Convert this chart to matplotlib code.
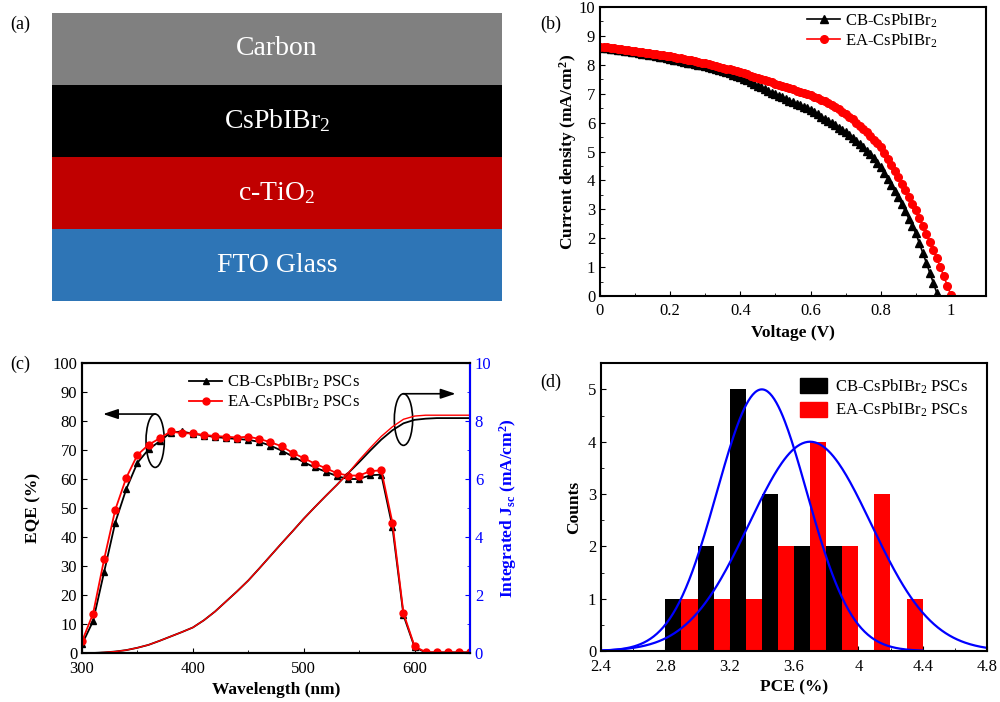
"""CsPbIBr2 solar cell figure: device stack, J-V, EQE and PCE histogram."""
import numpy as np
import matplotlib
matplotlib.use("Agg")
from matplotlib import pyplot as plt
from matplotlib.patches import Ellipse, Patch
from matplotlib.ticker import MultipleLocator

plt.rcParams['font.family'] = ['Liberation Serif', 'DejaVu Serif']
plt.rcParams['mathtext.fontset'] = 'custom'
plt.rcParams['mathtext.rm'] = 'Liberation Serif'
plt.rcParams['mathtext.it'] = 'Liberation Serif:italic'
plt.rcParams['mathtext.bf'] = 'Liberation Serif:bold'
plt.rcParams['xtick.direction'] = 'in'
plt.rcParams['ytick.direction'] = 'in'

# (a) device layers, bottom to top
layers = ['FTO Glass', 'c-TiO$_2$', 'CsPbIBr$_2$', 'Carbon']
layer_colors = ['#2E75B6', '#C00000', '#000000', '#808080']

# (b) J-V curves, 0.01 V steps
cb_jv = [8.60, 8.59, 8.58, 8.56, 8.55, 8.53, 8.51, 8.49, 8.47, 8.45,
         8.43, 8.41, 8.39, 8.37, 8.35, 8.33, 8.30, 8.28, 8.26, 8.23,
         8.21, 8.18, 8.16, 8.13, 8.11, 8.08, 8.06, 8.03, 8.00, 7.98,
         7.95, 7.92, 7.88, 7.85, 7.81, 7.78, 7.74, 7.70, 7.66, 7.62,
         7.58, 7.52, 7.46, 7.40, 7.34, 7.28, 7.22, 7.16, 7.10, 7.04,
         6.98, 6.93, 6.87, 6.82, 6.76, 6.71, 6.65, 6.60, 6.54, 6.49,
         6.43, 6.36, 6.29, 6.21, 6.14, 6.06, 5.98, 5.91, 5.83, 5.76,
         5.68, 5.58, 5.48, 5.38, 5.27, 5.16, 5.03, 4.90, 4.76, 4.62,
         4.47, 4.27, 4.06, 3.85, 3.64, 3.43, 3.18, 2.93, 2.68, 2.42,
         2.17, 1.83, 1.49, 1.15, 0.80, 0.45, 0.10]
ea_jv = [8.62, 8.61, 8.60, 8.59, 8.57, 8.55, 8.54, 8.52, 8.50, 8.49,
         8.47, 8.45, 8.44, 8.42, 8.40, 8.39, 8.37, 8.35, 8.33, 8.32,
         8.30, 8.28, 8.25, 8.23, 8.20, 8.18, 8.15, 8.13, 8.10, 8.08,
         8.05, 8.02, 7.99, 7.96, 7.93, 7.90, 7.87, 7.84, 7.81, 7.78,
         7.75, 7.71, 7.67, 7.63, 7.59, 7.55, 7.51, 7.47, 7.43, 7.39,
         7.35, 7.31, 7.27, 7.23, 7.19, 7.15, 7.11, 7.07, 7.03, 6.99,
         6.95, 6.90, 6.85, 6.79, 6.74, 6.68, 6.61, 6.53, 6.46, 6.38,
         6.31, 6.21, 6.11, 6.00, 5.90, 5.79, 5.66, 5.54, 5.41, 5.29,
         5.16, 4.95, 4.75, 4.54, 4.33, 4.12, 3.89, 3.66, 3.43, 3.20,
         2.97, 2.70, 2.42, 2.15, 1.87, 1.60, 1.30, 1.00, 0.68, 0.35,
         0.03]
cb_v = np.arange(len(cb_jv)) * 0.01
ea_v = np.arange(len(ea_jv)) * 0.01

# (c) EQE and integrated Jsc, 300-650 nm in 10 nm steps
wl = np.arange(300, 651, 10)
cb_eqe = [3.0, 11.0, 28.0, 45.0, 56.6, 65.6, 70.2, 73.0, 76.0, 76.4,
          75.6, 75.0, 74.5, 74.1, 73.8, 73.5, 72.8, 71.5, 69.8, 67.8,
          65.8, 64.0, 62.5, 61.0, 60.0, 60.0, 61.3, 61.5, 43.5, 13.0,
          2.0, 0.2, 0.2, 0.2, 0.2, 0.2]
ea_eqe = [4.0, 13.6, 32.4, 49.4, 60.5, 68.3, 71.8, 74.0, 76.4, 75.8,
          75.7, 75.2, 74.8, 74.6, 74.3, 74.6, 73.8, 72.7, 71.3, 69.0,
          67.2, 65.3, 63.7, 62.0, 61.2, 61.2, 62.7, 63.0, 45.0, 13.7,
          2.3, 0.3, 0.2, 0.2, 0.2, 0.2]
cb_jsc = [0.0, 0.0, 0.02, 0.05, 0.10, 0.18, 0.28, 0.42, 0.57, 0.72,
          0.88, 1.13, 1.43, 1.78, 2.13, 2.50, 2.92, 3.35, 3.78, 4.20,
          4.63, 5.03, 5.42, 5.80, 6.20, 6.58, 6.98, 7.36, 7.68, 7.92,
          8.04, 8.08, 8.10, 8.10, 8.10, 8.10]
ea_jsc = [0.0, 0.0, 0.02, 0.05, 0.10, 0.18, 0.28, 0.42, 0.57, 0.72,
          0.88, 1.13, 1.43, 1.78, 2.13, 2.50, 2.92, 3.35, 3.78, 4.20,
          4.63, 5.03, 5.42, 5.80, 6.20, 6.65, 7.07, 7.47, 7.80, 8.06,
          8.17, 8.20, 8.20, 8.20, 8.20, 8.20]

# (d) PCE histograms (bin left edges, width 0.1) and gaussian fits
cb_bins = [2.8, 3.0, 3.2, 3.4, 3.6, 3.8]
cb_counts = [1, 2, 5, 3, 2, 2]
ea_bins = [2.9, 3.1, 3.3, 3.5, 3.7, 3.9, 4.1, 4.3]
ea_counts = [1, 1, 1, 2, 4, 2, 3, 1]
fit_mean = [3.40, 3.70]
fit_sigma = [0.28, 0.38]
fit_amp = [5.0, 4.0]
fit_end = [4.4, 4.8]

fig = plt.figure(figsize=(10, 7.02), dpi=100)

# ---------------- (a)
ax1 = fig.add_axes([0.052, 0.5712, 0.45, 0.4103])
ax1.bar(np.zeros(4), np.ones(4), bottom=np.arange(4), width=1,
        color=layer_colors)
for i, name in enumerate(layers):
    ax1.text(0, i + 0.5, name, color='white', fontsize=20,
             ha='center', va='center')
ax1.set_xlim(-0.5, 0.5)
ax1.set_ylim(0, 4)
ax1.axis('off')
fig.text(0.010, 0.978, '(a)', fontsize=13, va='top')

# ---------------- (b)
ax2 = fig.add_axes([0.600, 0.5783, 0.386, 0.4117])
ax2.plot(cb_v, cb_jv, color='black', marker='^', ms=5.5, lw=1.2,
         label='CB-CsPbIBr$_2$')
ax2.plot(ea_v, ea_jv, color='red', marker='o', ms=5.5, lw=1.2,
         label='EA-CsPbIBr$_2$')
ax2.set_xlim(0, 1.1)
ax2.set_ylim(0, 10)
ax2.xaxis.set_major_locator(MultipleLocator(0.2))
ax2.xaxis.set_minor_locator(MultipleLocator(0.1))
ax2.yaxis.set_major_locator(MultipleLocator(1))
ax2.yaxis.set_minor_locator(MultipleLocator(0.5))
ax2.set_xticks([0, 0.2, 0.4, 0.6, 0.8, 1.0])
ax2.set_xticklabels(['0', '0.2', '0.4', '0.6', '0.8', '1'])
ax2.tick_params(labelsize=12)
ax2.tick_params(axis='x', pad=5)
ax2.set_xlabel('Voltage (V)', fontsize=12.5, fontweight='bold', labelpad=4)
ax2.set_ylabel(r'Current density (mA/cm$^\mathbf{2}$)', fontsize=12.5,
               fontweight='bold', labelpad=0)
ax2.legend(loc='upper left', bbox_to_anchor=(0.51, 1.02), frameon=False,
           fontsize=12, handlelength=2.0, handletextpad=0.3,
           labelspacing=0.1, borderaxespad=0.2)
fig.text(0.540, 0.978, '(b)', fontsize=13, va='top')

# ---------------- (c)
ax3 = fig.add_axes([0.082, 0.0698, 0.388, 0.4131])
ax3.plot(wl, cb_eqe, color='black', marker='^', ms=5, lw=1.3,
         label='CB-CsPbIBr$_2$ PSCs')
ax3.plot(wl, ea_eqe, color='red', marker='o', ms=5, lw=1.3,
         label='EA-CsPbIBr$_2$ PSCs')
ax3.set_xlim(300, 650)
ax3.set_ylim(0, 100)
ax3.xaxis.set_major_locator(MultipleLocator(100))
ax3.xaxis.set_minor_locator(MultipleLocator(50))
ax3.yaxis.set_major_locator(MultipleLocator(10))
ax3.tick_params(labelsize=12)
ax3.tick_params(axis='x', pad=6)
ax3.set_xlabel('Wavelength (nm)', fontsize=12.5, fontweight='bold',
               labelpad=3)
ax3.set_ylabel('EQE (%)', fontsize=12.5, fontweight='bold', labelpad=8)
ax3.legend(loc='upper left', bbox_to_anchor=(0.25, 1.0), frameon=False,
           fontsize=12, handlelength=2.0, handletextpad=0.3,
           labelspacing=0.1, borderaxespad=0.2)
ax3.add_patch(Ellipse((366, 73.2), 16.5, 18.4, fill=False, lw=1.2,
                      color='black'))
ax3.add_patch(Ellipse((590, 80.5), 16.5, 17.8, fill=False, lw=1.2,
                      color='black'))
arrow = dict(arrowstyle='-|>,head_length=0.9,head_width=0.3', color='black',
             lw=1.2, shrinkA=0, shrinkB=0)
ax3.annotate('', xy=(319, 82.4), xytext=(366, 82.4), arrowprops=arrow)
ax3.annotate('', xy=(637, 89.4), xytext=(590, 89.4), arrowprops=arrow)

ax3r = ax3.twinx()
ax3r.plot(wl, cb_jsc, color='black', lw=1.3)
ax3r.plot(wl, ea_jsc, color='red', lw=1.0)
ax3r.set_ylim(0, 10)
ax3r.yaxis.set_major_locator(MultipleLocator(2))
ax3r.yaxis.set_minor_locator(MultipleLocator(1))
ax3r.tick_params(axis='y', which='both', colors='blue', labelsize=12)
ax3r.set_ylabel(r'Integrated J$_\mathbf{sc}$ (mA/cm$^\mathbf{2}$)',
                color='blue', fontsize=12.5, fontweight='bold', labelpad=4)
fig.text(0.010, 0.494, '(c)', fontsize=13, va='top')

# ---------------- (d)
ax4 = fig.add_axes([0.601, 0.0726, 0.386, 0.410])
ax4.bar(cb_bins, cb_counts, width=0.1, align='edge', color='black')
ax4.bar(ea_bins, ea_counts, width=0.1, align='edge', color='red')
for m, s, a, end in zip(fit_mean, fit_sigma, fit_amp, fit_end):
    xs = np.linspace(2.4, end, 300)
    ax4.plot(xs, a * np.exp(-(xs - m) ** 2 / (2 * s ** 2)), color='blue',
             lw=1.6)
ax4.set_xlim(2.4, 4.8)
ax4.set_ylim(0, 5.5)
ax4.xaxis.set_major_locator(MultipleLocator(0.4))
ax4.xaxis.set_minor_locator(MultipleLocator(0.2))
ax4.yaxis.set_major_locator(MultipleLocator(1))
ax4.yaxis.set_minor_locator(MultipleLocator(0.5))
ax4.set_xticks([2.4, 2.8, 3.2, 3.6, 4.0, 4.4, 4.8])
ax4.set_xticklabels(['2.4', '2.8', '3.2', '3.6', '4', '4.4', '4.8'])
ax4.tick_params(labelsize=12)
ax4.tick_params(axis='x', pad=6)
ax4.set_xlabel('PCE (%)', fontsize=12.5, fontweight='bold', labelpad=3)
ax4.set_ylabel('Counts', fontsize=12.5, fontweight='bold', labelpad=4)
handles = [Patch(color='black'), Patch(color='red')]
ax4.legend(handles, ['CB-CsPbIBr$_2$ PSCs', 'EA-CsPbIBr$_2$ PSCs'],
           loc='upper left', bbox_to_anchor=(0.49, 0.985), frameon=False,
           fontsize=12, handlelength=1.6, handleheight=1.0,
           handletextpad=0.5, labelspacing=0.3, borderaxespad=0.2)
fig.text(0.540, 0.468, '(d)', fontsize=13, va='top')

for ax in (ax2, ax3, ax3r, ax4):
    for sp in ax.spines.values():
        sp.set_linewidth(1.5)
ax3r.spines['right'].set_color('blue')

fig.savefig('out.png', dpi=100)
